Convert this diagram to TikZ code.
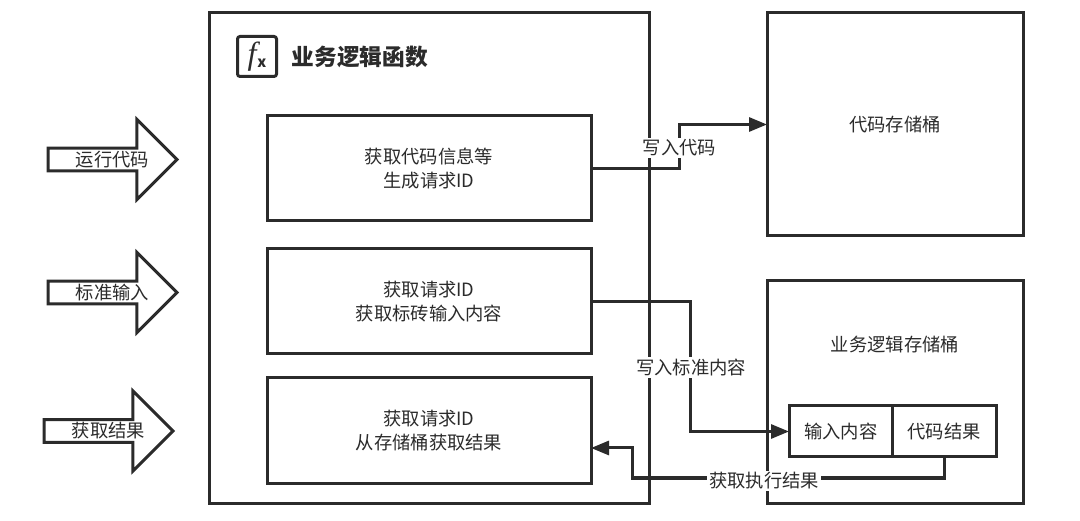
\documentclass[tikz,border=0pt]{standalone}
\usepackage{fontspec}
\setmainfont{Noto Sans CJK SC}
\newfontfamily\fxfont{Liberation Serif}
\usepackage{xcolor}
\usetikzlibrary{arrows.meta,shapes.arrows}
\definecolor{ink}{HTML}{2B2B2B}
\tikzset{
  frame/.style={draw=ink,line width=3pt,anchor=north west,inner sep=0pt,outer sep=0pt},
  stepbox/.style={frame,minimum width=324pt,minimum height=105pt},
  cell/.style={frame,minimum width=103.5pt,minimum height=51pt,font=\fontsize{18.3}{20}\selectfont,text=ink},
  txt/.style={font=\fontsize{18.3}{23.5}\selectfont,text=ink,align=center},
  lbl/.style={txt,fill=white,inner xsep=2pt,inner ysep=2pt},
  inarrow/.style={single arrow,draw=ink,line width=3pt,fill=white,minimum width=80pt,minimum height=129pt,
    single arrow head extend=25pt,single arrow tip angle=90,inner sep=0pt,outer sep=0pt,anchor=tail,txt},
  arr/.style={-{Stealth[length=18pt,width=14pt,inset=0pt]},draw=ink,line width=3pt},
}
\begin{document}
\begin{tikzpicture}[x=1pt,y=-1pt]
\useasboundingbox (0,0) rectangle (1080,521);
% left side
\foreach \i/\x/\y/\c in {run/48/159.5/运行代码,stdin/48/292.5/标准输入,fetch/44/431/获取结果}
  \node[inarrow] (\i) at (\x,\y) {\kern11pt\c};
% function box
\node[frame,minimum width=440pt,minimum height=490pt] (func) at (209,13) {};
\node[draw=ink,line width=3pt,rounded corners=2.5pt,minimum width=39pt,minimum height=40pt,inner sep=0pt,outer sep=0pt,font=\fontsize{32}{32}\selectfont,text=ink] (icon) at (257,56.5) {{\fxfont\itshape f}\kern1pt\raisebox{-3pt}{\fontsize{15}{15}\selectfont\bfseries x}};
\node[font=\fontsize{22.7}{24}\selectfont\bfseries,text=ink,anchor=west,inner sep=0pt] (title) at (291.5,57) {业务逻辑函数};
\node[stepbox,txt] (info) at (267,116) {获取代码信息等\\生成请求ID};
\node[stepbox,txt] (input) at (267,249) {获取请求ID\\获取标砖输入内容};
\node[stepbox,txt] (result) at (267,378) {获取请求ID\\从存储桶获取结果};
% buckets
\node[frame,minimum width=256pt,minimum height=223pt,txt] (codebkt) at (767,13) {代码存储桶};
\node[frame,minimum width=256pt,minimum height=222pt] (logicbkt) at (767,281) {};
\node[txt] (logiclbl) at (895,345) {业务逻辑存储桶};
\node[cell] (inbuf) at (789,406) {输入内容};
\node[cell] (outbuf) at (892.5,406) {代码结果};
% connectors
\coordinate (resin) at (591,448);
\draw[arr] (info.east) -- ++(88,0) |- (codebkt.west);
\draw[arr] (input.east) -- ++(99,0) |- (inbuf.west);
\draw[arr] (outbuf.south) -- ++(0,21) -| (632,448) -- (resin);
\node[lbl] (l1) at (679.5,148) {写入代码};
\node[lbl] (l2) at (691,368) {写入标准内容};
\node[lbl] (l3) at (764,481) {获取执行结果};
\end{tikzpicture}
\end{document}
